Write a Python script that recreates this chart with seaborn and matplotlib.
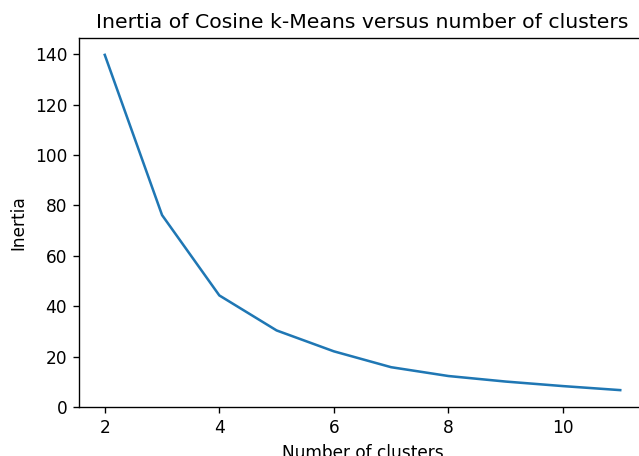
import matplotlib
matplotlib.use("Agg")
import matplotlib.pyplot as plt
import seaborn as sns
import pandas as pd

clusters = [2, 3, 4, 5, 6, 7, 8, 9, 10, 11]
inertia = [139.8, 76.2, 44.3, 30.4, 22.1, 15.8, 12.3, 10.1, 8.3, 6.7]

df = pd.DataFrame({"clusters": clusters, "inertia": inertia})

dpi = 122
fig = plt.figure(figsize=(639 / dpi, 456 / dpi), dpi=dpi)
ax = fig.add_axes([79 / 639, 1 - 407 / 456, (646 - 79) / 639, (407 - 38) / 456])
sns.lineplot(data=df, x="clusters", y="inertia", ax=ax, color="#1f77b4")
ax.set_title("Inertia of Cosine k-Means versus number of clusters")
ax.set_xlabel("Number of clusters")
ax.set_ylabel("Inertia")
ax.set_ylim(0, 146.5)
fig.savefig("out.png", dpi=dpi)
